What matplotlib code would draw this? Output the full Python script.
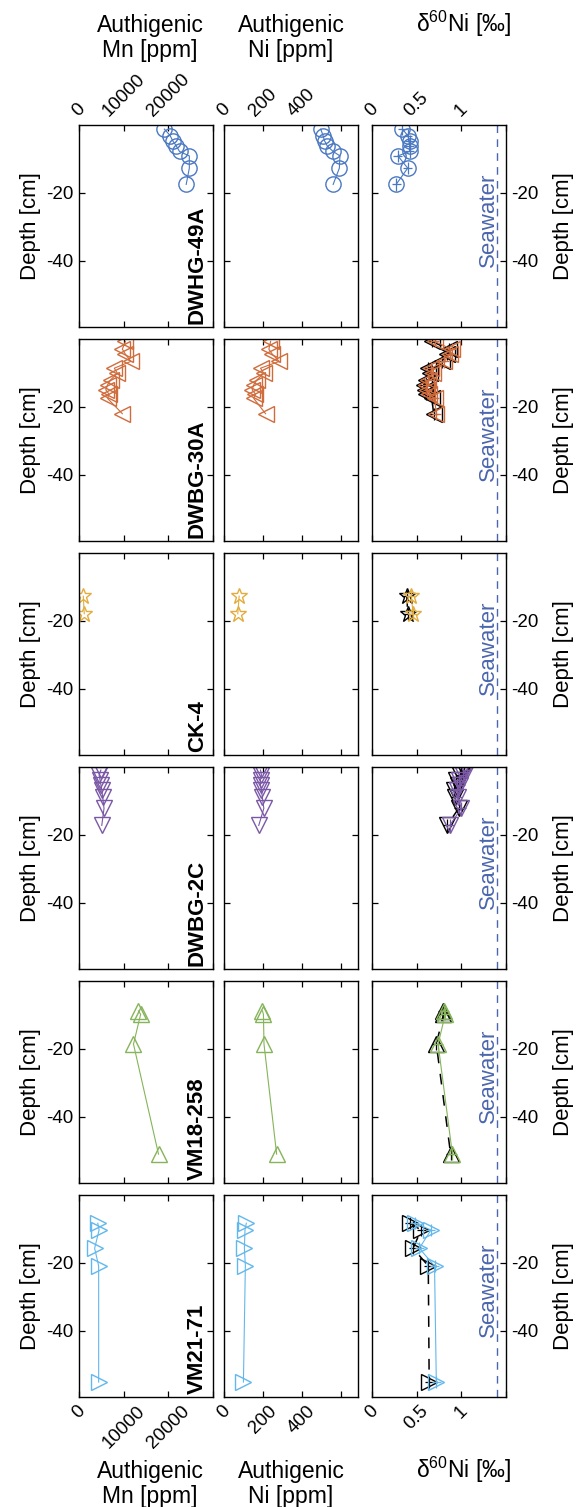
import matplotlib
matplotlib.use("Agg")
import matplotlib.pyplot as plt  # noqa: E402

plt.rcParams["font.family"] = ["Liberation Sans", "DejaVu Sans"]
plt.rcParams["axes.unicode_minus"] = False
plt.rcParams["mathtext.fontset"] = "custom"
plt.rcParams["mathtext.rm"] = "Liberation Sans"

# ── data ──
cores = ["DWHG-49A", "DWBG-30A", "CK-4", "DWBG-2C", "VM18-258", "VM21-71"]

dep_49a = [-1.2, -3.1, -4.7, -6.2, -7.8, -9.1, -12.7, -17.5]
mn_49a = [19100, 20400, 21000, 21800, 22500, 24700, 24700, 24000]
ni_49a = [498, 510, 518, 532, 562, 597, 594, 562]
d60_49a = [0.34, 0.40, 0.42, 0.42, 0.42, 0.29, 0.40, 0.27]
d60k_49a = [0.34, 0.40, 0.42, 0.42, 0.42, 0.29, 0.40, 0.27]

dep_30a = [-0.7, -3.0, -4.5, -6.6, -8.6, -10.1, -12.0, -13.5, -15.0, -16.2, -17.5, -22.0]
mn_30a = [10400, 9700, 10400, 11600, 7900, 8600, 7100, 6400, 6000, 6700, 6400, 9700]
ni_30a = [240, 231, 249, 284, 188, 205, 170, 153, 145, 162, 153, 214]
d60_30a = [0.70, 0.89, 0.87, 0.81, 0.66, 0.68, 0.63, 0.61, 0.62, 0.64, 0.70, 0.72]
d60k_30a = [0.67, 0.86, 0.84, 0.78, 0.63, 0.65, 0.60, 0.58, 0.59, 0.61, 0.67, 0.69]

dep_ck4 = [-12.7, -17.9]
mn_ck4 = [960, 1180]
ni_ck4 = [78, 71]
d60_ck4 = [0.44, 0.46]
d60k_ck4 = [0.39, 0.40]

dep_2c = [-0.9, -2.4, -3.8, -5.3, -6.8, -8.8, -12.2, -17.2]
mn_2c = [4900, 4500, 4700, 4900, 5100, 5300, 5600, 5100]
ni_2c = [188, 193, 188, 188, 193, 197, 205, 179]
d60_2c = [1.06, 1.02, 0.97, 0.99, 0.95, 0.96, 1.00, 0.87]
d60k_2c = [1.03, 0.99, 0.94, 0.96, 0.92, 0.93, 0.97, 0.84]

dep_258 = [-8.8, -9.8, -18.6, -51.0]
mn_258 = [13300, 13800, 12200, 17800]
ni_258 = [198, 203, 206, 271]
d60_258 = [0.81, 0.82, 0.74, 0.90]
d60k_258 = [0.79, 0.80, 0.72, 0.88]

dep_71 = [-8.3, -10.3, -15.7, -20.9, -55.1]
mn_71 = [4200, 4500, 3500, 4400, 4400]
ni_71 = [115, 108, 105, 110, 100]
d60_71 = [0.48, 0.66, 0.53, 0.70, 0.72]
d60k_71 = [0.42, 0.55, 0.46, 0.63, 0.64]

SEAWATER = 1.4

depths = [dep_49a, dep_30a, dep_ck4, dep_2c, dep_258, dep_71]
mns = [mn_49a, mn_30a, mn_ck4, mn_2c, mn_258, mn_71]
nis = [ni_49a, ni_30a, ni_ck4, ni_2c, ni_258, ni_71]
d60s = [d60_49a, d60_30a, d60_ck4, d60_2c, d60_258, d60_71]
d60ks = [d60k_49a, d60k_30a, d60k_ck4, d60k_2c, d60k_258, d60k_71]

colors = ["#4a78c2", "#d06c3c", "#e3ad3e", "#7a58a6", "#85b45a", "#62b8ec"]
markers = ["o", "<", "*", "v", "^", ">"]
msize = [11, 11, 12, 11, 11, 11]
sw_col = "#4b66ae"

# ── layout (pixels) ──
W, H = 577, 1507
COL_X = [79, 224, 372]
COL_W = 134
ROW_TOP = 125
ROW_STEP = 214
ROW_H = 202

fig = plt.figure(figsize=(W / 100, H / 100), dpi=100)

xlims = [(0, 30000), (0, 690), (0, 1.5)]
xticks = [[0, 10000, 20000, 30000], [0, 200, 400, 600], [0, 0.5, 1, 1.5]]
xtlabs = [["0", "10000", "20000", ""], ["0", "200", "400", ""], ["0", "0.5", "1", ""]]

for i in range(6):
    y0 = ROW_TOP + i * ROW_STEP
    for j in range(3):
        ax = fig.add_axes([COL_X[j] / W, 1 - (y0 + ROW_H) / H, COL_W / W, ROW_H / H])
        ax.set_xlim(*xlims[j]); ax.set_ylim(-59.5, 0)
        ax.set_xticks(xticks[j]); ax.set_xticklabels(xtlabs[j])
        ax.set_yticks([-40, -20])
        for s in ax.spines.values():
            s.set_linewidth(1.0)
        ax.tick_params(direction="in", top=True, right=True, length=4, width=0.9,
                       labelsize=13.5, labelleft=(j == 0), labelright=(j == 2),
                       labeltop=(i == 0), labelbottom=(i == 5), pad=4)
        for t in ax.xaxis.get_major_ticks():
            t.label2.set_rotation(45); t.label2.set_ha("center"); t.label2.set_va("bottom")
            t.label1.set_rotation(45); t.label1.set_ha("center"); t.label1.set_va("top")
        c, mk, ms = colors[i], markers[i], msize[i]
        if j == 0:
            ax.plot(mns[i], depths[i], marker=mk, color=c, mfc="none", ms=ms, lw=0.8, mew=1)
            ax.set_ylabel("Depth [cm]", fontsize=16, labelpad=4)
            ax.text(0.96, 0.015, cores[i], rotation=90, ha="right", va="bottom",
                    transform=ax.transAxes, fontsize=16, fontweight="bold")
        elif j == 1:
            ax.plot(nis[i], depths[i], marker=mk, color=c, mfc="none", ms=ms, lw=0.8, mew=1)
        else:
            ax.axvline(SEAWATER, color=sw_col, lw=1, dashes=(5.5, 4.5))
            ax.text(1.3, -28, "Seawater", rotation=90, ha="center", va="center",
                    color=sw_col, fontsize=16)
            if i > 0:
                ax.errorbar(d60ks[i], depths[i], xerr=0.05, yerr=1.8, fmt="none",
                            ecolor="k", elinewidth=0.9, capsize=0)
                ax.plot(d60ks[i], depths[i], marker=mk, color="k", mfc="none", ms=ms,
                        lw=1.1, mew=1, dashes=(7, 7))
            ax.errorbar(d60s[i], depths[i], xerr=0.05, yerr=1.8, fmt="none",
                        ecolor=c, elinewidth=0.9, capsize=0)
            ax.plot(d60s[i], depths[i], marker=mk, color=c, mfc="none", ms=ms, lw=0.8, mew=1)
            ax.set_ylabel("Depth [cm]", fontsize=16, labelpad=10)
            ax.yaxis.set_label_position("right")

# column titles, top and bottom
titles = ["Authigenic\nMn [ppm]", "Authigenic\nNi [ppm]", r"δ$^{60}$Ni [‰]"]
tx = [150, 291, 464]
for k in range(3):
    va_y = 38 if k < 2 else 24
    fig.text(tx[k] / W, 1 - va_y / H, titles[k], ha="center", va="center",
             fontsize=16.5, linespacing=1.15)
    vb_y = 1484 if k < 2 else 1470
    fig.text(tx[k] / W, 1 - vb_y / H, titles[k], ha="center", va="center",
             fontsize=16.5, linespacing=1.15)

fig.savefig("out.png", dpi=100)
